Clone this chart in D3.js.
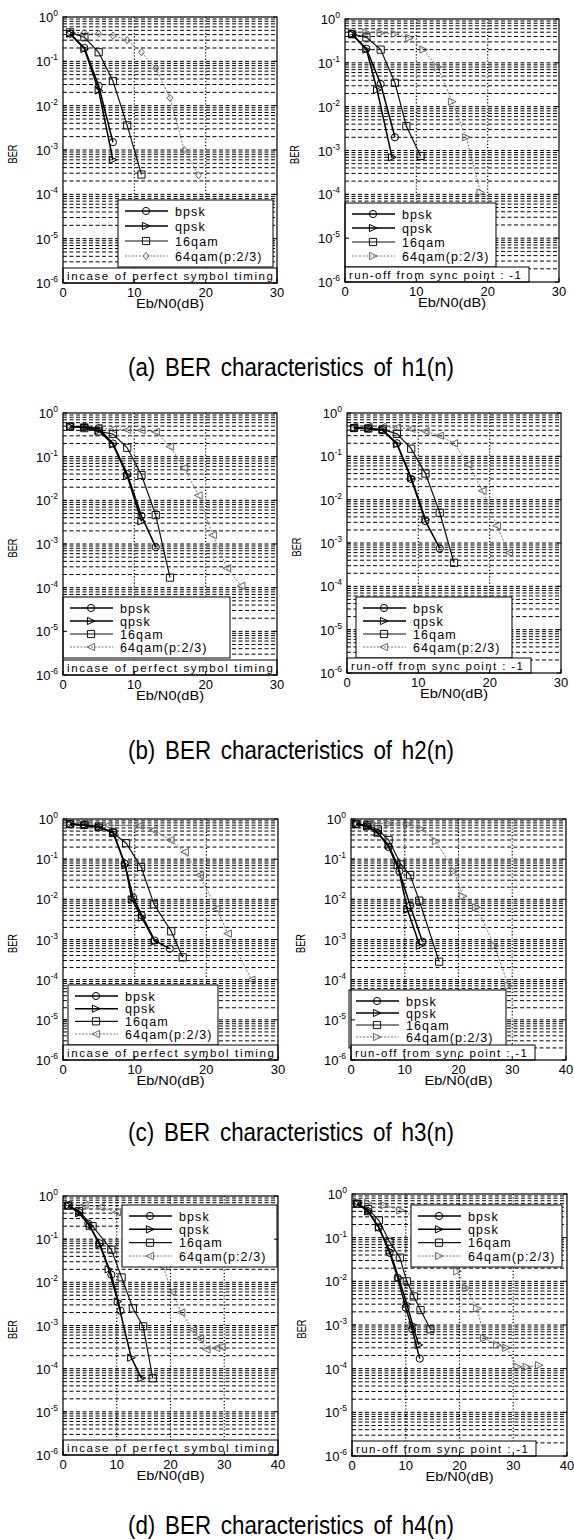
<!DOCTYPE html>
<html lang="en">
<head>
<meta charset="utf-8">
<title>BER characteristics of h1(n) .. h4(n)</title>
<script src="https://d3js.org/d3.v7.min.js"></script>
<style>
  body { margin: 0; background: #fff; }
  text { font-family: "Liberation Sans", Arial, sans-serif; fill: #000; }
  .tick { font-size: 13px; }
  .sup { font-size: 8.5px; }
  .lab { font-size: 12px; }
  .leg { font-size: 12.5px; letter-spacing: 1.1px; }
  .note { font-size: 11.5px; }
  .cap { font-size: 25px; word-spacing: 4px; }
</style>
</head>
<body>
<svg width="574" height="1540"></svg>
<script>
// ---- data (Eb/N0 in dB, BER) ----
var seriesNames = ["bpsk", "qpsk", "16qam", "64qam(p:2/3)"];
var captions = ["(a) BER characteristics of h1(n)", "(b) BER characteristics of h2(n)",
                "(c) BER characteristics of h3(n)", "(d) BER characteristics of h4(n)"];
var notes = ["incase of perfect symbol timing", "run-off from sync point : -1"];
var yExps = [0, -1, -2, -3, -4, -5, -6];

// h1(n), perfect timing
var h1p_bpsk  = [[1,0.42],[3,0.2],[5,0.028],[7,1.5e-3]];
var h1p_qpsk  = [[1,0.42],[3,0.19],[5,0.022],[7,6e-4]];
var h1p_16qam = [[1,0.45],[3,0.35],[5,0.16],[7,0.036],[9,3.6e-3],[11,2.8e-4]];
var h1p_64qam = [[1,0.45],[3,0.44],[5,0.42],[7,0.38],[9,0.3],[11,0.16],[13,0.07],[15,0.015],[17,1e-3],[19,2.7e-4]];
// h1(n), run-off -1
var h1r_bpsk  = [[1,0.45],[3,0.21],[5,0.033],[7,2e-3]];
var h1r_qpsk  = [[1,0.45],[3,0.2],[4.5,0.024],[6.6,7e-4]];
var h1r_16qam = [[1,0.45],[3,0.38],[5,0.2],[7,0.035],[8.6,3.6e-3],[10.6,7.5e-4]];
var h1r_64qam = [[1,0.5],[3,0.49],[5,0.48],[7,0.46],[9,0.37],[11,0.2],[13,0.08],[15,0.013],[17,2e-3],[19,1.1e-4]];
// h2(n), perfect timing
var h2p_bpsk  = [[1,0.49],[3,0.48],[5,0.45],[7,0.2],[9,0.04],[11,4.4e-3],[13,8.5e-4]];
var h2p_qpsk  = [[1,0.49],[3,0.47],[5,0.4],[7,0.19],[9,0.036],[11,3.3e-3]];
var h2p_16qam = [[1,0.49],[3,0.45],[5,0.38],[7,0.33],[9,0.16],[11,0.038],[13,4.6e-3],[15,1.7e-4]];
var h2p_64qam = [[1,0.5],[3,0.48],[5,0.46],[7,0.42],[9,0.41],[11,0.4],[13,0.37],[15,0.17],[17,0.055],[19,0.013],[21,1.6e-3],[23,2.8e-4],[25,1.1e-4]];
// h2(n), run-off -1
var h2r_bpsk  = [[1,0.45],[3,0.44],[5,0.4],[7,0.2],[9,0.03],[11,3.2e-3],[13,7.5e-4]];
var h2r_qpsk  = [[1,0.45],[3,0.44],[5,0.4],[7,0.19],[9,0.032],[11,3.5e-3]];
var h2r_16qam = [[1,0.45],[3,0.44],[5,0.42],[7,0.33],[9,0.15],[11,0.04],[13,5e-3],[15,3.5e-4]];
var h2r_64qam = [[1,0.5],[3,0.49],[5,0.48],[7,0.46],[9,0.43],[11,0.38],[13,0.3],[15,0.2],[17,0.065],[19,0.016],[21,2.5e-3],[22.7,6e-4]];
// h3(n), perfect timing
var h3p_bpsk  = [[1,0.75],[3,0.7],[5,0.62],[7,0.48],[8.6,0.078],[9.8,0.011],[11,4e-3],[12.8,9.4e-4],[14.9,5.9e-4]];
var h3p_qpsk  = [[1,0.75],[3,0.7],[5,0.62],[7,0.45],[8.7,0.07],[9.6,0.01],[11,3.5e-3],[12.8,9e-4]];
var h3p_16qam = [[1,0.75],[3,0.72],[5,0.65],[7,0.45],[8.8,0.25],[10.9,0.064],[12.7,7.5e-3],[15.1,1.6e-3],[16.7,3.6e-4]];
var h3p_64qam = [[1,0.78],[3,0.76],[6.3,0.7],[10.7,0.68],[12.6,0.53],[15,0.3],[17,0.15],[19.1,0.04],[21.4,5.8e-3],[23,1.4e-3],[26.3,1e-4]];
// h3(n), run-off -1
var h3r_bpsk  = [[1,0.75],[3,0.65],[5,0.45],[7,0.2],[9,0.05],[11,7e-3],[13.3,8.8e-4]];
var h3r_qpsk  = [[1,0.75],[3,0.65],[5,0.45],[7,0.22],[8.7,0.07],[10.5,5.5e-3],[12.8,7e-4]];
var h3r_16qam = [[1,0.75],[3,0.7],[5,0.55],[7,0.3],[9.3,0.074],[11,0.04],[12.7,9.3e-3],[16.4,2.8e-4]];
var h3r_64qam = [[1,0.8],[4,0.78],[7,0.76],[10.5,0.74],[13,0.57],[15.8,0.28],[19.2,0.05],[20.8,0.012],[23.3,6.3e-3],[26.7,7e-4],[29.3,7e-5]];
// h4(n), perfect timing
var h4p_bpsk  = [[1,0.6],[3,0.42],[4.7,0.23],[6.8,0.08],[9,0.015],[10.7,2.2e-3]];
var h4p_qpsk  = [[1,0.6],[3,0.4],[5,0.2],[6.8,0.075],[8.5,0.02],[10.2,3.6e-3],[12.7,1.8e-4],[14.6,6e-5]];
var h4p_16qam = [[1,0.6],[3,0.45],[5.5,0.2],[9,0.057],[10.9,0.013],[13,2.5e-3],[14.9,9.6e-4],[16.7,6e-5]];
var h4p_64qam = [[1,0.65],[4,0.62],[7,0.55],[10,0.42],[13,0.2],[16,0.07],[18.6,0.023],[20.3,6e-3],[22,2e-3],[24.2,8e-4],[25.5,5e-4],[26.7,2.8e-4],[28.5,3e-4],[29.5,3.2e-4]];
// h4(n), run-off -1
var h4r_bpsk  = [[1,0.6],[3,0.4],[5,0.17],[7,0.045],[8.5,0.012],[10,2.5e-3],[11.2,8e-4],[12.6,1.7e-4]];
var h4r_qpsk  = [[1,0.6],[3,0.4],[5,0.17],[7,0.05],[8.7,0.012],[10.2,3e-3],[11.3,1e-3],[12.4,3.5e-4]];
var h4r_16qam = [[1,0.6],[3,0.45],[5,0.25],[7,0.08],[8.9,0.035],[10.2,0.01],[11.5,4.5e-3],[12.75,2.2e-3],[14.6,8e-4]];
var h4r_64qam = [[1,0.65],[3,0.62],[6,0.55],[9,0.42],[12,0.3],[15,0.15],[17.5,0.05],[19.6,0.017],[21.2,7e-3],[23.3,2.4e-3],[24.6,5e-4],[27,3.5e-4],[28.7,3e-4],[30.8,1.1e-4],[32.5,1.1e-4],[34.8,1.2e-4]];

// ---- layout ----
var panels = [
  {x0:63,  x1:277, y0:17,   y1:283,  xmax:30, series:[h1p_bpsk,h1p_qpsk,h1p_16qam,h1p_64qam], note:0, leg:[118,200,155,67], m64:"diamond"},
  {x0:345, x1:559, y0:19,   y1:282,  xmax:30, series:[h1r_bpsk,h1r_qpsk,h1r_16qam,h1r_64qam], note:1, leg:[345,203,151,64], m64:"triR"},
  {x0:63,  x1:277, y0:413,  y1:675,  xmax:30, series:[h2p_bpsk,h2p_qpsk,h2p_16qam,h2p_64qam], note:0, leg:[63,597,167,61],  m64:"triL"},
  {x0:347, x1:561, y0:413,  y1:673,  xmax:30, series:[h2r_bpsk,h2r_qpsk,h2r_16qam,h2r_64qam], note:1, leg:[356,597,156,61], m64:"triL"},
  {x0:63,  x1:278, y0:819,  y1:1060, xmax:30, series:[h3p_bpsk,h3p_qpsk,h3p_16qam,h3p_64qam], note:0, leg:[68,985,150,60],  m64:"triL"},
  {x0:351, x1:566, y0:819,  y1:1060, xmax:40, series:[h3r_bpsk,h3r_qpsk,h3r_16qam,h3r_64qam], note:1, leg:[349,990,157,58], m64:"triR"},
  {x0:63,  x1:278, y0:1196, y1:1455, xmax:40, series:[h4p_bpsk,h4p_qpsk,h4p_16qam,h4p_64qam], note:0, leg:[122,1205,155,62], m64:"triL"},
  {x0:352, x1:567, y0:1194, y1:1456, xmax:40, series:[h4r_bpsk,h4r_qpsk,h4r_16qam,h4r_64qam], note:1, leg:[411,1205,151,62], m64:"triR"}
];
var captionY = [367, 750, 1132, 1525];

var styles = [
  {stroke:"#000", width:1.5, dash:null,  marker:"circle"},
  {stroke:"#000", width:1.5, dash:null,  marker:"triR"},
  {stroke:"#111", width:1.2, dash:null,  marker:"square"},
  {stroke:"#666", width:0.9, dash:"2,1.5", marker:null}
];

var svg = d3.select("svg");

function marker(g, type, x, y, color) {
  var s = 3.6, p;
  if (type === "circle") {
    g.append("circle").attr("cx", x).attr("cy", y).attr("r", s)
      .attr("fill", "none").attr("stroke", color).attr("stroke-width", 1);
    return;
  }
  if (type === "square") p = [[x-s,y-s],[x+s,y-s],[x+s,y+s],[x-s,y+s]];
  else if (type === "triR") p = [[x-s,y-s],[x+s+0.5,y],[x-s,y+s]];
  else if (type === "triL") p = [[x+s,y-s],[x-s-0.5,y],[x+s,y+s]];
  else p = [[x,y-s],[x+s*0.8,y],[x,y+s],[x-s*0.8,y]];
  g.append("path").attr("d", "M" + p.join("L") + "Z")
    .attr("fill", "none").attr("stroke", color).attr("stroke-width", 1);
}

panels.forEach(function(P, pi) {
  var g = svg.append("g");
  var x = d3.scaleLinear().domain([0, P.xmax]).range([P.x0, P.x1]);
  var y = d3.scaleLog().domain([1, 1e-6]).range([P.y0, P.y1]);

  var clipId = "clip" + pi;
  svg.append("clipPath").attr("id", clipId).append("rect")
    .attr("x", P.x0).attr("y", P.y0).attr("width", P.x1 - P.x0).attr("height", P.y1 - P.y0);

  // horizontal log grid (dashed at every minor value)
  var gridVals = [];
  for (var e = -6; e < 0; e++) for (var m = 1; m <= 9; m++) {
    var v = m * Math.pow(10, e);
    if (v > 1e-6 && v < 1) gridVals.push(v);
  }
  g.append("g").selectAll("line").data(gridVals).join("line")
    .attr("x1", P.x0).attr("x2", P.x1)
    .attr("y1", function(d) { return y(d); }).attr("y2", function(d) { return y(d); })
    .attr("stroke", "#000").attr("stroke-width", 1).attr("stroke-dasharray", "4,2.5");

  // vertical dotted grid at major x ticks
  var xt = d3.range(0, P.xmax + 1, 10);
  g.append("g").selectAll("line").data(xt.slice(1, -1)).join("line")
    .attr("x1", function(d) { return x(d); }).attr("x2", function(d) { return x(d); })
    .attr("y1", P.y0).attr("y2", P.y1)
    .attr("stroke", "#000").attr("stroke-width", 1.2).attr("stroke-dasharray", "1.2,2");

  // curves
  var line = d3.line().x(function(d) { return x(d[0]); }).y(function(d) { return y(d[1]); });
  var cg = g.append("g").attr("clip-path", "url(#" + clipId + ")");
  [3, 2, 1, 0].forEach(function(si) {
    var st = styles[si], data = P.series[si];
    cg.append("path").datum(data).attr("d", line)
      .attr("fill", "none").attr("stroke", st.stroke).attr("stroke-width", st.width)
      .attr("stroke-dasharray", st.dash);
    var mk = st.marker || P.m64;
    data.forEach(function(d) { marker(cg, mk, x(d[0]), y(d[1]), st.stroke); });
  });

  // legend
  var L = P.leg, lg = g.append("g");
  lg.append("rect").attr("x", L[0]).attr("y", L[1]).attr("width", L[2]).attr("height", L[3])
    .attr("fill", "#fff").attr("stroke", "#000").attr("stroke-width", 1);
  var step = (L[3] - 22) / 3;
  seriesNames.forEach(function(name, si) {
    var st = styles[si], ry = L[1] + 11 + si * step;
    lg.append("line").attr("x1", L[0] + 7).attr("x2", L[0] + 50).attr("y1", ry).attr("y2", ry)
      .attr("stroke", st.stroke).attr("stroke-width", st.width).attr("stroke-dasharray", st.dash);
    marker(lg, st.marker || P.m64, L[0] + 28, ry, st.stroke);
    lg.append("text").attr("class", "leg").attr("x", L[0] + 57).attr("y", ry + 4.5).text(name);
  });

  // note box at bottom
  var noteW = P.note === 0 ? (P.x1 - P.x0) : 184;
  g.append("rect").attr("x", P.x0).attr("y", P.y1 - 15).attr("width", noteW).attr("height", 15)
    .attr("fill", "#fff").attr("stroke", "#000").attr("stroke-width", 1);
  g.append("text").attr("class", "note").attr("x", P.x0 + 4).attr("y", P.y1 - 3.5)
    .attr("textLength", noteW - (P.note === 0 ? 8 : 12)).attr("lengthAdjust", "spacing")
    .text(notes[P.note]);

  // frame
  g.append("rect").attr("x", P.x0).attr("y", P.y0).attr("width", P.x1 - P.x0).attr("height", P.y1 - P.y0)
    .attr("fill", "none").attr("stroke", "#000").attr("stroke-width", 1.2);

  // y ticks and labels
  yExps.forEach(function(ex) {
    var yy = y(Math.pow(10, ex));
    g.append("line").attr("x1", P.x0).attr("x2", P.x0 + 4).attr("y1", yy).attr("y2", yy).attr("stroke", "#000");
    g.append("line").attr("x1", P.x1).attr("x2", P.x1 - 4).attr("y1", yy).attr("y2", yy).attr("stroke", "#000");
    var t = g.append("text").attr("class", "tick").attr("x", P.x0 - 5).attr("y", yy + 5)
      .attr("text-anchor", "end");
    t.append("tspan").text("10");
    t.append("tspan").attr("class", "sup").attr("dy", -6).text(ex);
  });

  // x ticks and labels
  xt.forEach(function(d) {
    g.append("line").attr("x1", x(d)).attr("x2", x(d)).attr("y1", P.y1).attr("y2", P.y1 - 4).attr("stroke", "#000");
    g.append("text").attr("class", "tick").attr("x", x(d)).attr("y", P.y1 + 14)
      .attr("text-anchor", "middle").text(d);
  });

  g.append("text").attr("class", "lab").attr("x", (P.x0 + P.x1) / 2).attr("y", P.y1 + 25)
    .attr("text-anchor", "middle").attr("textLength", 68).attr("lengthAdjust", "spacingAndGlyphs")
    .text("Eb/N0(dB)");
  g.append("text").attr("class", "lab")
    .attr("transform", "translate(" + (P.x0 - 46) + "," + ((P.y0 + P.y1) / 2 + 4) + ") rotate(-90)")
    .attr("text-anchor", "middle").attr("textLength", 19).attr("lengthAdjust", "spacingAndGlyphs")
    .text("BER");
});

// captions
captions.forEach(function(c, i) {
  svg.append("text").attr("class", "cap").attr("x", 291).attr("y", captionY[i] + 9)
    .attr("text-anchor", "middle").attr("textLength", 326).attr("lengthAdjust", "spacingAndGlyphs")
    .text(c);
});
</script>
</body>
</html>
